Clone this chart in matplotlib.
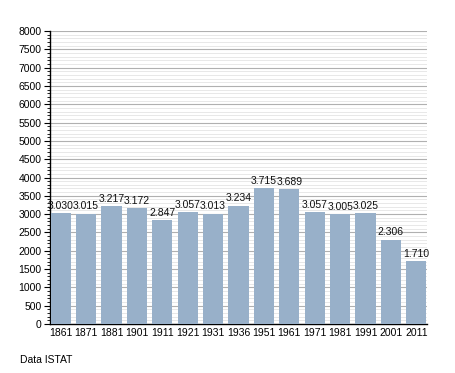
import numpy as np
import matplotlib.pyplot as plt
from matplotlib.ticker import MultipleLocator

plt.rcParams['font.family'] = ['Liberation Sans', 'DejaVu Sans']

anni = ['1861', '1871', '1881', '1901', '1911', '1921', '1931', '1936',
        '1951', '1961', '1971', '1981', '1991', '2001', '2011']
abitanti = [3030, 3015, 3217, 3172, 2847, 3057, 3013, 3234,
            3715, 3689, 3057, 3005, 3025, 2306, 1710]
etichette = ['3.030', '3.015', '3.217', '3.172', '2.847', '3.057', '3.013', '3.234',
             '3.715', '3.689', '3.057', '3.005', '3.025', '2.306', '1.710']

fig = plt.figure(figsize=(4.55, 3.73), dpi=100)
ax = fig.add_axes([50/455, 1 - 324/373, 377/455, 293/373])

x = np.arange(len(anni))
ax.bar(x, abitanti, width=0.8, color='#98b0c9', zorder=3)
for i in range(len(x)):
    ax.text(x[i], abitanti[i] + 60, etichette[i], ha='center', va='bottom',
            fontsize=7.5, color='#111111', zorder=4)

ax.set_xlim(-0.42, 14.42)
ax.set_ylim(0, 8000)
ax.set_xticks(x)
ax.set_xticklabels(anni, fontsize=7.5)
ax.yaxis.set_major_locator(MultipleLocator(500))
ax.yaxis.set_minor_locator(MultipleLocator(100))
ax.tick_params(axis='y', labelsize=7.5, length=4, width=0.8, pad=2)
ax.tick_params(axis='y', which='minor', length=2, width=0.6)
ax.tick_params(axis='x', length=0, pad=3)
ax.grid(axis='y', which='major', color='#b0b0b0', linewidth=0.8, zorder=0)
ax.grid(axis='y', which='minor', color='#e4e4e4', linewidth=0.6, zorder=0)
for s in ['top', 'right']:
    ax.spines[s].set_visible(False)
ax.spines['left'].set_linewidth(1)
ax.spines['bottom'].set_linewidth(1)

fig.text(20/455, 1 - 360/373, 'Data ISTAT', fontsize=7.5, va='center')

plt.savefig('out.png', dpi=100)
